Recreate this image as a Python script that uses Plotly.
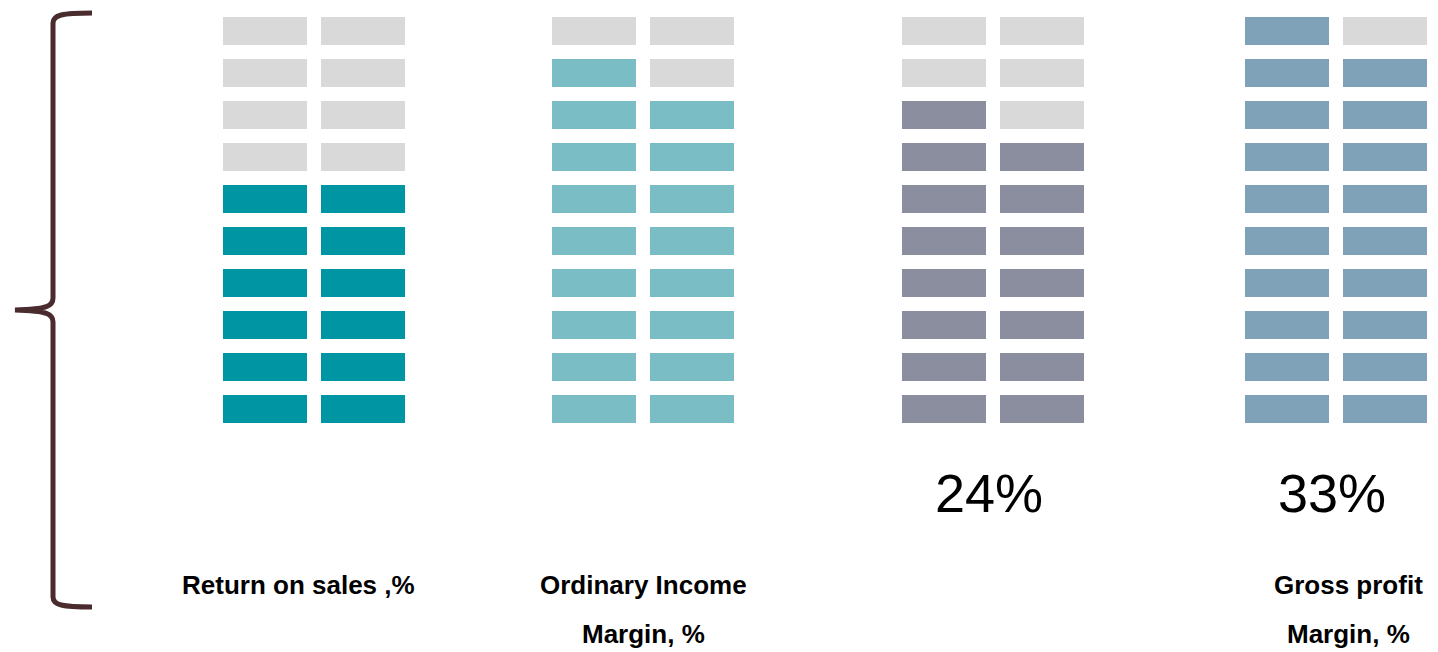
import plotly.graph_objects as go

# ── data ─────────────────────────────────────────────────────────────────────
metrics = ["Return on sales ,%", "Ordinary Income<br>Margin, %", "", "Gross profit<br>Margin, %"]
filled_blocks = [12, 17, 15, 19]          # filled cells out of 20 per column
value_labels = ["", "", "24%", "33%"]
TOTAL_BLOCKS = 20

# ── styling / layout constants ───────────────────────────────────────────────
W, H = 1438, 652
PAD = 8                                   # page body margin in the browser
FILL_COLORS = ["#0095A3", "#7ABDC5", "#8B8E9E", "#7FA2B8"]
EMPTY = "#D9D9D9"
COL_LEFT = [265, 594, 944, 1287]          # centre of left cell in each column
LABEL_X = [298, 643, 0, 1348]
VALUE_X = [0, 0, 989, 1332]
CELL_STEP_X = 98
CELL_W, CELL_H = 84, 28
TOP_Y, ROW_STEP = 17, 42
ROWS = TOTAL_BLOCKS // 2
FONT = "Liberation Sans, Arial, sans-serif"

xs, bases, hs, colors = [], [], [], []
for ci, n in enumerate(filled_blocks):
    for k in range(TOTAL_BLOCKS):
        row_from_bottom, side = divmod(k, 2)
        xs.append(COL_LEFT[ci] + side * CELL_STEP_X)
        bases.append(TOP_Y + (ROWS - 1 - row_from_bottom) * ROW_STEP)
        hs.append(CELL_H)
        colors.append(FILL_COLORS[ci] if k < n else EMPTY)

fig = go.Figure(go.Bar(
    x=xs, y=hs, base=bases, width=CELL_W,
    marker=dict(color=colors, line=dict(width=0)),
    hoverinfo="skip", showlegend=False,
))

# value labels + metric names
annotations = []
for ci in range(len(metrics)):
    if value_labels[ci]:
        annotations.append(dict(x=VALUE_X[ci], y=493, text=value_labels[ci], showarrow=False,
                                font=dict(family=FONT, size=54, color="#000000")))
    if metrics[ci]:
        for li, line in enumerate(metrics[ci].split("<br>")):
            annotations.append(dict(x=LABEL_X[ci], y=585 + li * 49, text="<b>%s</b>" % line,
                                    showarrow=False,
                                    font=dict(family=FONT, size=26, color="#000000")))

# left curly brace
brace = ("M 92,13 C 62,13 53,15 53,23 L 53,298 C 53,306 48,309 15,310 "
         "C 48,311 53,314 53,322 L 53,597 C 53,605 62,607 92,607")

fig.update_layout(
    width=W, height=H,
    margin=dict(l=0, r=0, t=0, b=0),
    paper_bgcolor="#FFFFFF", plot_bgcolor="#FFFFFF",
    barmode="overlay",
    xaxis=dict(range=[PAD, W + PAD], visible=False, fixedrange=True),
    yaxis=dict(range=[H + PAD, PAD], visible=False, fixedrange=True),
    annotations=annotations,
    shapes=[dict(type="path", path=brace, xref="x", yref="y",
                 line=dict(color="#4A2B2E", width=5))],
)

fig.write_html("out.html", config={"displayModeBar": False})
